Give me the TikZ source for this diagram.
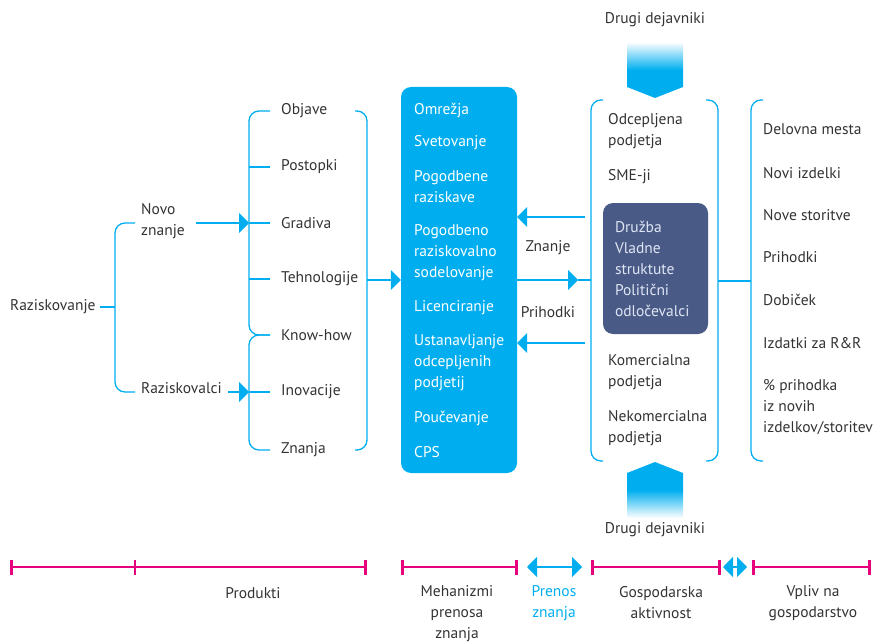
\documentclass[tikz,border=0pt]{standalone}
\usepackage{fontspec}
\setmainfont{PT Sans}
\usetikzlibrary{arrows.meta}
\definecolor{kcyan}{RGB}{0,174,239}
\definecolor{kpink}{RGB}{230,0,126}
\definecolor{kslate}{RGB}{74,90,134}
\definecolor{kgray}{RGB}{51,51,51}
\definecolor{kpale}{RGB}{222,230,244}
\begin{document}
\begin{tikzpicture}
  [x=1pt,y=-1pt,every node/.style={inner sep=0pt,anchor=west,align=left,text=kgray,font=\fontsize{15.5}{21}\selectfont}]
  \tikzstyle{brace} = [draw=kcyan,line width=1.3pt,rounded corners=10pt]
  \tikzstyle{line} = [draw=kcyan,line width=1.3pt]
  \tikzstyle{arr} = [line,-{Triangle[length=10pt,width=20pt]}]
  \tikzstyle{dblarr} = [line,{Triangle[length=10pt,width=20pt]}-{Triangle[length=10pt,width=20pt]}]
  \tikzstyle{tline} = [draw=kpink,line width=1.3pt,{Bar[width=15pt,line width=2.6pt]}-{Bar[width=15pt,line width=2.6pt]}]
  \tikzstyle{label} = [anchor=center,align=center]
  \useasboundingbox (0,0) rectangle (876,642);

  % research and its products
  \node (r1) at (10,307) {Raziskovanje};
  \node (r2) at (141,221) {Novo\\znanje};
  \node (r3) at (141,388) {Raziskovalci};
  \coordinate (b1) at (115,307);
  \coordinate (c2) at (249,223);
  \coordinate (c3) at (249,392);
  \draw[brace] (135,223) -- (115,223) -- (115,392) -- (135,392);
  \draw[line] ([xshift=4pt]r1.east) -- (b1);
  \draw[arr] ([xshift=11pt]r2.east |- c2) -- (c2);
  \draw[arr] ([xshift=6pt]r3.east |- c3) -- (c3);

  \foreach \y/\t [count=\i] in {111/Objave,167/Postopki,223/Gradiva,279/Tehnologije,335/Know-how,392/Inovacije,450/Znanja}
    \node (p\i) at (281,\y) {\t};
  \draw[brace] (270,111) -- (249,111) -- (249,335) -- (270,335);
  \draw[brace] (270,335) -- (249,335) -- (249,450) -- (270,450);
  \foreach \y in {167,223,279,392}
    \draw[line] (249,\y) -- (270,\y);
  \draw[brace] (355,111) -- (367,111) -- (367,450) -- (355,450);

  % transfer mechanisms
  \node[fill=kcyan,rounded corners=10pt,minimum width=116pt,minimum height=386pt,anchor=center] (mbox) at (459,280) {};
  \foreach \y/\t [count=\i] in {110/Omrežja,143/Svetovanje,187/{Pogodbene\\raziskave},253/{Pogodbeno\\raziskovalno\\sodelovanje},308/Licenciranje,363/{Ustanavljanje\\odcepljenih\\podjetij},418/Poučevanje,452/CPS}
    \node[text=white] (m\i) at (414,\y) {\t};
  \coordinate (b2) at (367,280);
  \draw[arr] (b2) -- (b2 -| mbox.west);

  % economic activity
  \node (g1) at (608,131) {Odcepljena\\podjetja};
  \node (g2) at (608,177) {SME-ji};
  \node[fill=kslate,text=kpale,rounded corners=10pt,minimum width=105pt,minimum height=131pt,text width=81pt,anchor=center] (g3) at (655.5,268.5) {Družba\\Vladne\\struktute\\Politični\\odločevalci};
  \node (g4) at (608,372) {Komercialna\\podjetja};
  \node (g5) at (608,428) {Nekomercialna\\podjetja};
  \draw[brace] (603,100) -- (591,100) -- (591,461) -- (603,461);
  \draw[brace] (706,100) -- (718,100) -- (718,461) -- (706,461);

  \coordinate (k1) at (585,217);
  \coordinate (k2) at (591,280);
  \coordinate (k3) at (585,343);
  \draw[arr] (k1) -- (k1 -| mbox.east);
  \draw[arr] (k2 -| mbox.east) -- (578,280);
  \draw[line] (578,280) -- (k2);
  \draw[arr] (k3) -- (k3 -| mbox.east);
  \node[label] (z1) at (548,248) {Znanje};
  \node[label] (z2) at (548,312) {Prihodki};

  % other actors
  \node[label] (d1) at (655,20) {Drugi dejavniki};
  \node[label] (d2) at (655,530) {Drugi dejavniki};
  \shade[top color=white,bottom color=kcyan,middle color=kcyan] (627,42) -- (683,42) -- (683,87) -- (655,98) -- (627,87) -- cycle;
  \shade[top color=kcyan,bottom color=white,middle color=kcyan] (655,462) -- (683,473) -- (683,518) -- (627,518) -- (627,473) -- cycle;

  % impact
  \draw[line] (718,281) -- (751,281);
  \draw[brace] (763,100) -- (751,100) -- (751,461) -- (763,461);
  \foreach \y/\t [count=\i] in {129/Delovna mesta,173/Novi izdelki,215/Nove storitve,257/Prihodki,300/Dobiček,343/Izdatki za R\&R,407/{\% prihodka\\iz novih\\izdelkov/storitev}}
    \node (v\i) at (763,\y) {\t};

  % time line
  \draw[tline] (10,567) -- (367,567);
  \draw[kpink,line width=2.6pt] (135,559.5) -- (135,574.5);
  \draw[tline] (401,567) -- (518,567);
  \draw[tline] (591,567) -- (721,567);
  \draw[tline] (752,567) -- (871,567);
  \draw[dblarr] (527,567) -- (582,567);
  \draw[dblarr] (723,567) -- (747,567);
  \node[label] (t1) at (253,593) {Produkti};
  \node[label] (t2) at (457,614) {Mehanizmi\\prenosa\\znanja};
  \node[label,text=kcyan] (t3) at (554,603) {Prenos\\znanja};
  \node[label] (t4) at (661,603) {Gospodarska\\aktivnost};
  \node[label] (t5) at (813,603) {Vpliv na\\gospodarstvo};
\end{tikzpicture}
\end{document}
